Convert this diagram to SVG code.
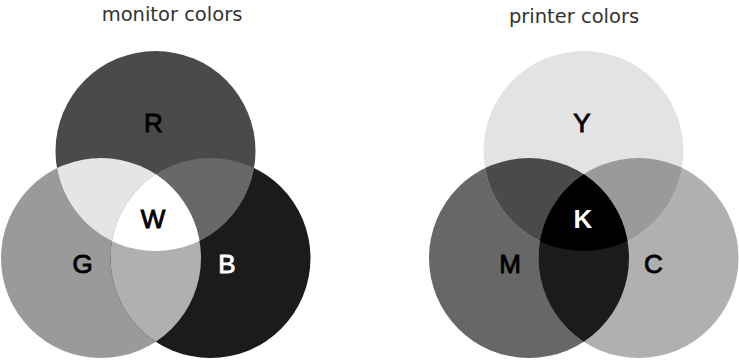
<svg xmlns="http://www.w3.org/2000/svg" width="739" height="360" viewBox="0 0 739 360">
  <style>
    .title { font-family: "DejaVu Sans", "Liberation Sans", sans-serif; font-size: 19.5px; fill: #333333; text-anchor: middle; }
    .lbl { font-family: "Liberation Sans", Arial, sans-serif; font-size: 26px; font-weight: normal; text-anchor: middle; stroke-width: 0.9px; }
    .dark { fill: #000000; stroke: #000000; }
    .light { fill: #ffffff; stroke: #ffffff; }
    .heavy { font-weight: bold; stroke-width: 0; }
  </style>
  <defs>
    <clipPath id="cR"><circle cx="155.5" cy="151" r="100"/></clipPath>
    <clipPath id="cG"><circle cx="101" cy="258" r="100"/></clipPath>
    <clipPath id="cB"><circle cx="210.5" cy="258" r="100"/></clipPath>
    <clipPath id="cY"><circle cx="583.5" cy="151" r="100"/></clipPath>
    <clipPath id="cM"><circle cx="529" cy="258" r="100"/></clipPath>
    <clipPath id="cC"><circle cx="638.5" cy="258" r="100"/></clipPath>
  </defs>
  <rect width="739" height="360" fill="#ffffff"/>

  <text class="title" x="172" y="21">monitor colors</text>
  <text class="title" x="574" y="23">printer colors</text>

  <!-- monitor colors -->
  <g id="monitor">
    <g id="G"><circle cx="101" cy="258" r="100" fill="#9a9a9a"/></g>
    <g id="B"><circle cx="210.5" cy="258" r="100" fill="#1b1b1b"/></g>
    <g id="R"><circle cx="155.5" cy="151" r="100" fill="#4a4a4a"/></g>
    <g id="RG" clip-path="url(#cR)"><circle cx="101" cy="258" r="100" fill="#e5e5e5"/></g>
    <g id="RB" clip-path="url(#cR)"><circle cx="210.5" cy="258" r="100" fill="#686868"/></g>
    <g id="GB" clip-path="url(#cG)"><circle cx="210.5" cy="258" r="100" fill="#b0b0b0"/></g>
    <g id="W" clip-path="url(#cR)"><g clip-path="url(#cG)"><circle cx="210.5" cy="258" r="100" fill="#ffffff"/></g></g>
    <text class="lbl dark" x="153.5" y="132">R</text>
    <text class="lbl dark" x="153" y="228">W</text>
    <text class="lbl dark" x="82.5" y="273">G</text>
    <text class="lbl light" x="227" y="273">B</text>
  </g>

  <!-- printer colors -->
  <g id="printer">
    <g id="M"><circle cx="529" cy="258" r="100" fill="#676767"/></g>
    <g id="C"><circle cx="638.5" cy="258" r="100" fill="#b0b0b0"/></g>
    <g id="Y"><circle cx="583.5" cy="151" r="100" fill="#e3e3e3"/></g>
    <g id="YM" clip-path="url(#cY)"><circle cx="529" cy="258" r="100" fill="#4a4a4a"/></g>
    <g id="YC" clip-path="url(#cY)"><circle cx="638.5" cy="258" r="100" fill="#9a9a9a"/></g>
    <g id="MC" clip-path="url(#cM)"><circle cx="638.5" cy="258" r="100" fill="#1b1b1b"/></g>
    <g id="K" clip-path="url(#cY)"><g clip-path="url(#cM)"><circle cx="638.5" cy="258" r="100" fill="#000000"/></g></g>
    <text class="lbl dark" x="582" y="132">Y</text>
    <text class="lbl light heavy" x="583" y="228">K</text>
    <text class="lbl dark" x="510" y="273">M</text>
    <text class="lbl dark" x="653.5" y="273">C</text>
  </g>
</svg>
